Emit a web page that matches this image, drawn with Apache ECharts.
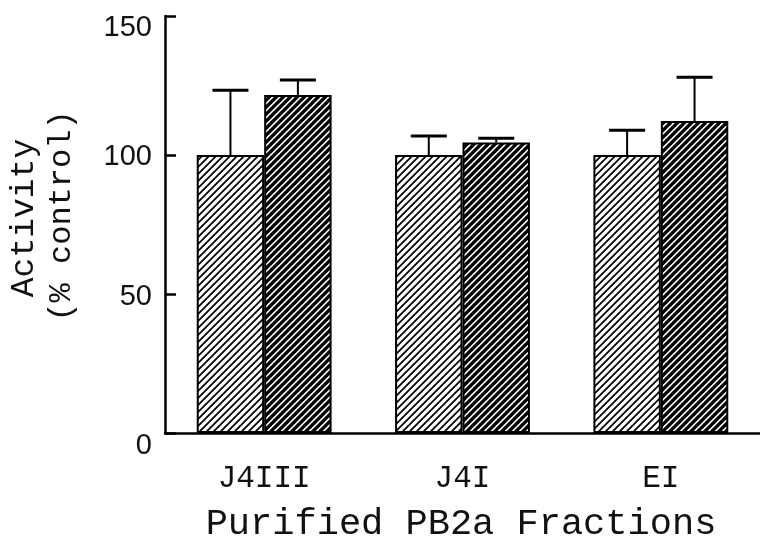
<!DOCTYPE html>
<html>
<head>
<meta charset="utf-8">
<script src="https://cdn.jsdelivr.net/npm/echarts@6/dist/echarts.min.js"></script>
<style>
  html, body { margin: 0; padding: 0; background: #fff; }
  #chart { width: 760px; height: 541px; }
</style>
</head>
<body>
<div id="chart"></div>
<script>
// Fractions and measured activities (% of control)
var categories = ['J4III', 'J4I', 'EI'];
var controlValues = [100, 100, 100];
var controlErrors = [23.3, 6.8, 8.9];
var treatedValues = [121.6, 104.5, 112.2];
var treatedErrors = [5.4, 1.5, 15.8];
var yTicks = [0, 50, 100, 150];

// Diagonal "/" hatch tile, supersampled so it tiles seamlessly
function hatch(blackWidth, period) {
  var c = document.createElement('canvas');
  c.width = period; c.height = period;
  var g = c.getContext('2d');
  var img = g.createImageData(period, period);
  var ss = 4;
  for (var y = 0; y < period; y++) {
    for (var x = 0; x < period; x++) {
      var cover = 0;
      for (var sy = 0; sy < ss; sy++) {
        for (var sx = 0; sx < ss; sx++) {
          var t = (x + (sx + 0.5) / ss + y + (sy + 0.5) / ss) % period;
          if (t < blackWidth) cover++;
        }
      }
      var v = Math.round(255 * (1 - cover / (ss * ss)));
      var o = (y * period + x) * 4;
      img.data[o] = v; img.data[o + 1] = v; img.data[o + 2] = v; img.data[o + 3] = 255;
    }
  }
  g.putImageData(img, 0, 0);
  return c;
}
var lightHatch = hatch(2.4, 7);
var darkHatch = hatch(4.6, 7);

var CAT_GAP = 0.32;
var MONO = '"Liberation Mono", "Courier New", monospace';

function errorRenderer(values, errors, side) {
  return function (params, api) {
    var i = api.value(0);
    var v = values[i], e = errors[i];
    var center = api.coord([i, v]);
    var band = api.size([1, 0])[0];
    var barW = band * (1 - CAT_GAP) / 2;
    var x = center[0] + side * barW / 2;
    var yTop = api.coord([i, v + e])[1];
    var yBar = center[1];
    var half = 18;
    return {
      type: 'group',
      children: [
        { type: 'line', shape: { x1: x, y1: yBar, x2: x, y2: yTop },
          style: { stroke: '#000', lineWidth: 2 } },
        { type: 'line', shape: { x1: x - half, y1: yTop, x2: x + half, y2: yTop },
          style: { stroke: '#000', lineWidth: 3 } }
      ]
    };
  };
}

// Vertical shift for individual tick labels
var labelPad = { 0: 26, 50: 6, 100: 4, 150: 24 };
var rich = {};
yTicks.forEach(function (t) {
  rich['t' + t] = {
    fontFamily: '"Liberation Sans", Arial, sans-serif',
    fontSize: 29, color: '#111',
    padding: [labelPad[t], 0, 0, 0]
  };
});

var chart = echarts.init(document.getElementById('chart'), null, { renderer: 'canvas' });
chart.setOption({
  animation: false,
  backgroundColor: '#fff',
  grid: { left: 165, right: 0, top: 16, bottom: 108, containLabel: false },
  xAxis: {
    type: 'category',
    data: categories,
    axisLine: { lineStyle: { color: '#000', width: 2.5 } },
    axisTick: { inside: true, length: 6, lineStyle: { color: '#000', width: 2 } },
    axisLabel: { fontFamily: MONO, fontSize: 31, color: '#111', margin: 30 }
  },
  yAxis: {
    type: 'value',
    min: 0, max: 150, interval: 50,
    splitLine: { show: false },
    axisLine: { show: true, lineStyle: { color: '#000', width: 2.5 } },
    axisTick: { show: true, inside: true, length: 11, lineStyle: { color: '#000', width: 2.5 } },
    axisLabel: {
      margin: 13,
      formatter: function (v) { return '{t' + v + '|' + v + '}'; },
      rich: rich
    }
  },
  graphic: [
    { type: 'text', x: 24, y: 218, rotation: Math.PI / 2,
      style: { text: 'Activity', fontFamily: MONO, fontSize: 33, fill: '#111',
               align: 'center', verticalAlign: 'middle' } },
    { type: 'text', x: 62, y: 216, rotation: Math.PI / 2,
      style: { text: '(% control)', fontFamily: MONO, fontSize: 32, fill: '#111',
               align: 'center', verticalAlign: 'middle' } },
    { type: 'text', x: 461, y: 524,
      style: { text: 'Purified PB2a Fractions', fontFamily: MONO, fontSize: 37, fill: '#111',
               align: 'center', verticalAlign: 'middle' } }
  ],
  series: [
    {
      name: 'control', type: 'bar', data: controlValues,
      barGap: '0%', barCategoryGap: (CAT_GAP * 100) + '%',
      itemStyle: { color: { image: lightHatch, repeat: 'repeat' }, borderColor: '#000', borderWidth: 2 }
    },
    {
      name: 'treated', type: 'bar', data: treatedValues,
      barGap: '0%', barCategoryGap: (CAT_GAP * 100) + '%',
      itemStyle: { color: { image: darkHatch, repeat: 'repeat' }, borderColor: '#000', borderWidth: 2 }
    },
    {
      type: 'custom', z: 5,
      data: categories.map(function (c, i) { return [i, controlValues[i]]; }),
      renderItem: errorRenderer(controlValues, controlErrors, -1)
    },
    {
      type: 'custom', z: 5,
      data: categories.map(function (c, i) { return [i, treatedValues[i]]; }),
      renderItem: errorRenderer(treatedValues, treatedErrors, 1)
    }
  ]
});
</script>
</body>
</html>
